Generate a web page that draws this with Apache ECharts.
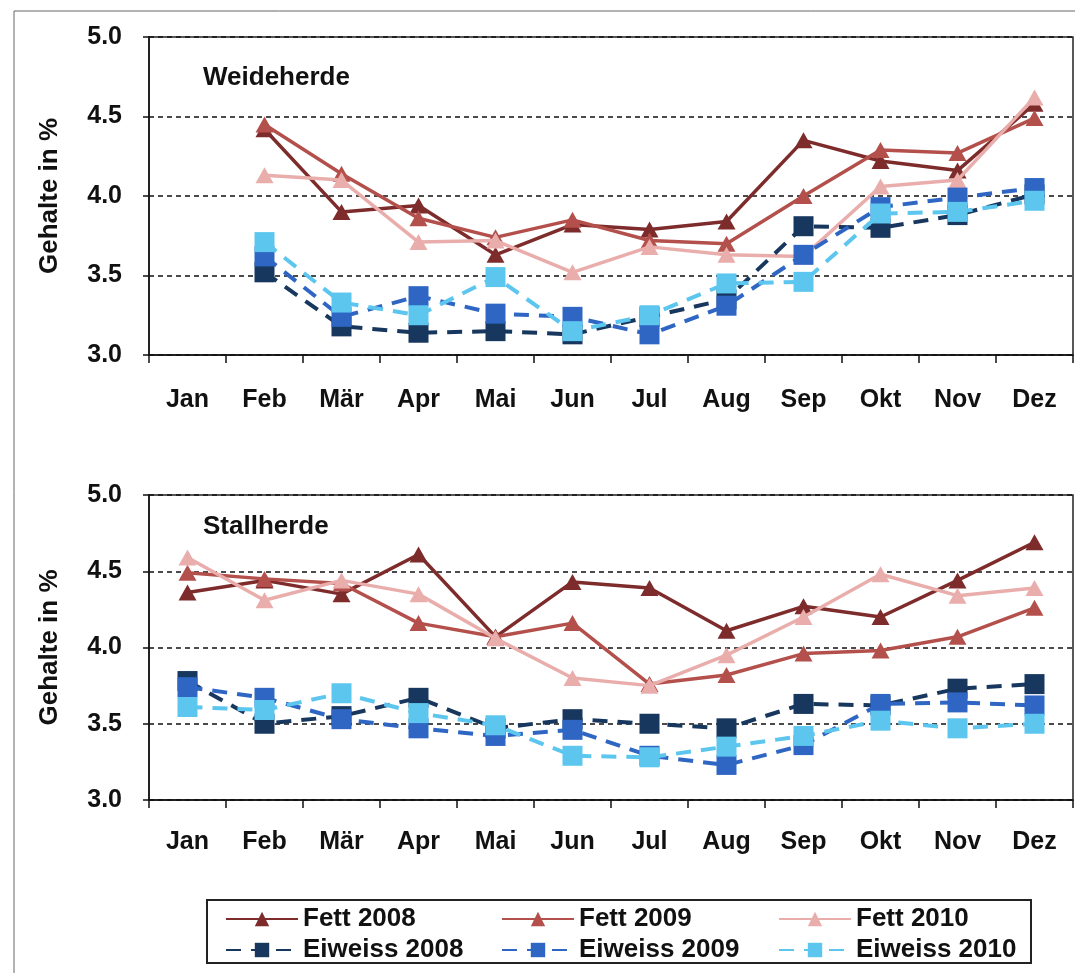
<!DOCTYPE html>
<html>
<head>
<meta charset="utf-8">
<script src="https://cdn.jsdelivr.net/npm/echarts@6/dist/echarts.min.js"></script>
<style>
html, body { margin: 0; padding: 0; background: #fff; }
#chart { width: 1075px; height: 973px; }
</style>
</head>
<body>
<div id="chart"></div>
<script>
// Monatswerte Fett / Eiweiss (Gehalte in %)
const months = ['Jan', 'Feb', 'Mär', 'Apr', 'Mai', 'Jun', 'Jul', 'Aug', 'Sep', 'Okt', 'Nov', 'Dez'];
const seriesNames = ['Fett 2008', 'Fett 2009', 'Fett 2010', 'Eiweiss 2008', 'Eiweiss 2009', 'Eiweiss 2010'];

// Weideherde (no January value)
const fett2008W = [null, 4.42, 3.90, 3.94, 3.63, 3.82, 3.79, 3.84, 4.35, 4.22, 4.16, 4.58];
const fett2009W = [null, 4.45, 4.14, 3.86, 3.74, 3.85, 3.72, 3.70, 4.00, 4.29, 4.27, 4.49];
const fett2010W = [null, 4.13, 4.10, 3.71, 3.72, 3.52, 3.68, 3.63, 3.62, 4.06, 4.10, 4.62];
const eiw2008W = [null, 3.52, 3.18, 3.14, 3.15, 3.13, 3.24, 3.35, 3.81, 3.80, 3.88, 4.01];
const eiw2009W = [null, 3.62, 3.24, 3.37, 3.26, 3.24, 3.13, 3.31, 3.63, 3.93, 3.99, 4.05];
const eiw2010W = [null, 3.71, 3.33, 3.25, 3.49, 3.15, 3.25, 3.45, 3.46, 3.89, 3.90, 3.97];

// Stallherde
const fett2008S = [4.36, 4.44, 4.35, 4.61, 4.07, 4.43, 4.39, 4.11, 4.27, 4.20, 4.44, 4.69];
const fett2009S = [4.49, 4.45, 4.42, 4.16, 4.07, 4.16, 3.76, 3.82, 3.96, 3.98, 4.07, 4.26];
const fett2010S = [4.59, 4.31, 4.44, 4.35, 4.06, 3.80, 3.75, 3.95, 4.20, 4.48, 4.34, 4.39];
const eiw2008S = [3.78, 3.50, 3.55, 3.67, 3.47, 3.53, 3.50, 3.47, 3.63, 3.62, 3.73, 3.76];
const eiw2009S = [3.74, 3.67, 3.53, 3.47, 3.42, 3.46, 3.29, 3.23, 3.36, 3.63, 3.64, 3.62];
const eiw2010S = [3.61, 3.59, 3.70, 3.57, 3.49, 3.29, 3.28, 3.35, 3.42, 3.52, 3.47, 3.50];

const yMin = 3.0, yMax = 5.0, yStep = 0.5;

const colors = ['#7e2b2b', '#b4504c', '#e9aeac', '#17375e', '#2f66c4', '#5cc6ee'];
const font = 'Liberation Sans, Arial, sans-serif';

var chart = echarts.init(document.getElementById('chart'));

function xAxisFor(idx) {
    return {
        type: 'category', gridIndex: idx, data: months,
        axisLine: { lineStyle: { color: '#111', width: 1.5 } },
        axisTick: { show: true, length: 8, lineStyle: { color: '#111', width: 1.5 } },
        axisLabel: { color: '#111', fontFamily: font, fontWeight: 'bold', fontSize: 25, margin: idx === 0 ? 33 : 30 }
    };
}
function yAxisFor(idx) {
    return {
        type: 'value', gridIndex: idx, min: yMin, max: yMax, interval: yStep,
        name: 'Gehalte in %', nameLocation: 'middle', nameGap: 86, nameRotate: 90,
        nameTextStyle: { color: '#111', fontFamily: font, fontWeight: 'bold', fontSize: 26 },
        axisLine: { show: true, lineStyle: { color: '#111', width: 1.5 } },
        axisTick: { show: true, length: 6, lineStyle: { color: '#111', width: 1.5 } },
        axisLabel: { color: '#111', fontFamily: font, fontWeight: 'bold', fontSize: 25, margin: 27,
            formatter: function (v) { return v.toFixed(1); } },
        splitLine: { show: true, lineStyle: { color: '#111', type: [5, 4], width: 1.5 } }
    };
}

function mkSeries(i, data, gi) {
    var fett = i < 3;
    return {
        name: seriesNames[i], type: 'line', xAxisIndex: gi, yAxisIndex: gi,
        data: data, connectNulls: false,
        symbol: fett ? 'triangle' : 'rect',
        symbolSize: fett ? [18, 16] : [20, 20],
        itemStyle: { color: colors[i] },
        lineStyle: { color: colors[i], width: fett ? 3.5 : 4, type: fett ? 'solid' : [15, 10] },
        z: 2 + i
    };
}

var weide = [fett2008W, fett2009W, fett2010W, eiw2008W, eiw2009W, eiw2010W];
var stall = [fett2008S, fett2009S, fett2010S, eiw2008S, eiw2009S, eiw2010S];
var series = [];
weide.forEach(function (d, i) { series.push(mkSeries(i, d, 0)); });
stall.forEach(function (d, i) { series.push(mkSeries(i, d, 1)); });

// one legend per item so the 3x2 layout lines up
var legendCols = [225, 501, 778];
var legendRows = [906, 937];
var legends = seriesNames.map(function (n, i) {
    return {
        data: [n], left: legendCols[i % 3], top: legendRows[Math.floor(i / 3)],
        itemWidth: 72, itemHeight: 18, padding: 0,
        textStyle: { color: '#111', fontFamily: font, fontWeight: 'bold', fontSize: 26 }
    };
});

var titleStyle = { fontFamily: font, fontWeight: 'bold', fontSize: 26, color: '#111' };

var option = {
    backgroundColor: '#fff',
    animation: false,
    title: [
        { text: 'Weideherde', left: 198, top: 60, textStyle: titleStyle },
        { text: 'Stallherde', left: 198, top: 509, textStyle: titleStyle }
    ],
    grid: [
        { left: 149, top: 37, right: 2, height: 318, show: true, borderColor: '#222', borderWidth: 1.5 },
        { left: 149, top: 495, right: 2, height: 305, show: true, borderColor: '#222', borderWidth: 1.5 }
    ],
    xAxis: [xAxisFor(0), xAxisFor(1)],
    yAxis: [yAxisFor(0), yAxisFor(1)],
    legend: legends,
    graphic: [
        { type: 'rect', shape: { x: 14, y: 11, width: 1100, height: 1000 },
          style: { fill: 'none', stroke: '#666', lineWidth: 1 }, silent: true },
        { type: 'rect', shape: { x: 207, y: 900, width: 824, height: 63 },
          style: { fill: 'none', stroke: '#222', lineWidth: 2 }, silent: true }
    ],
    series: series
};

chart.setOption(option);
</script>
</body>
</html>
